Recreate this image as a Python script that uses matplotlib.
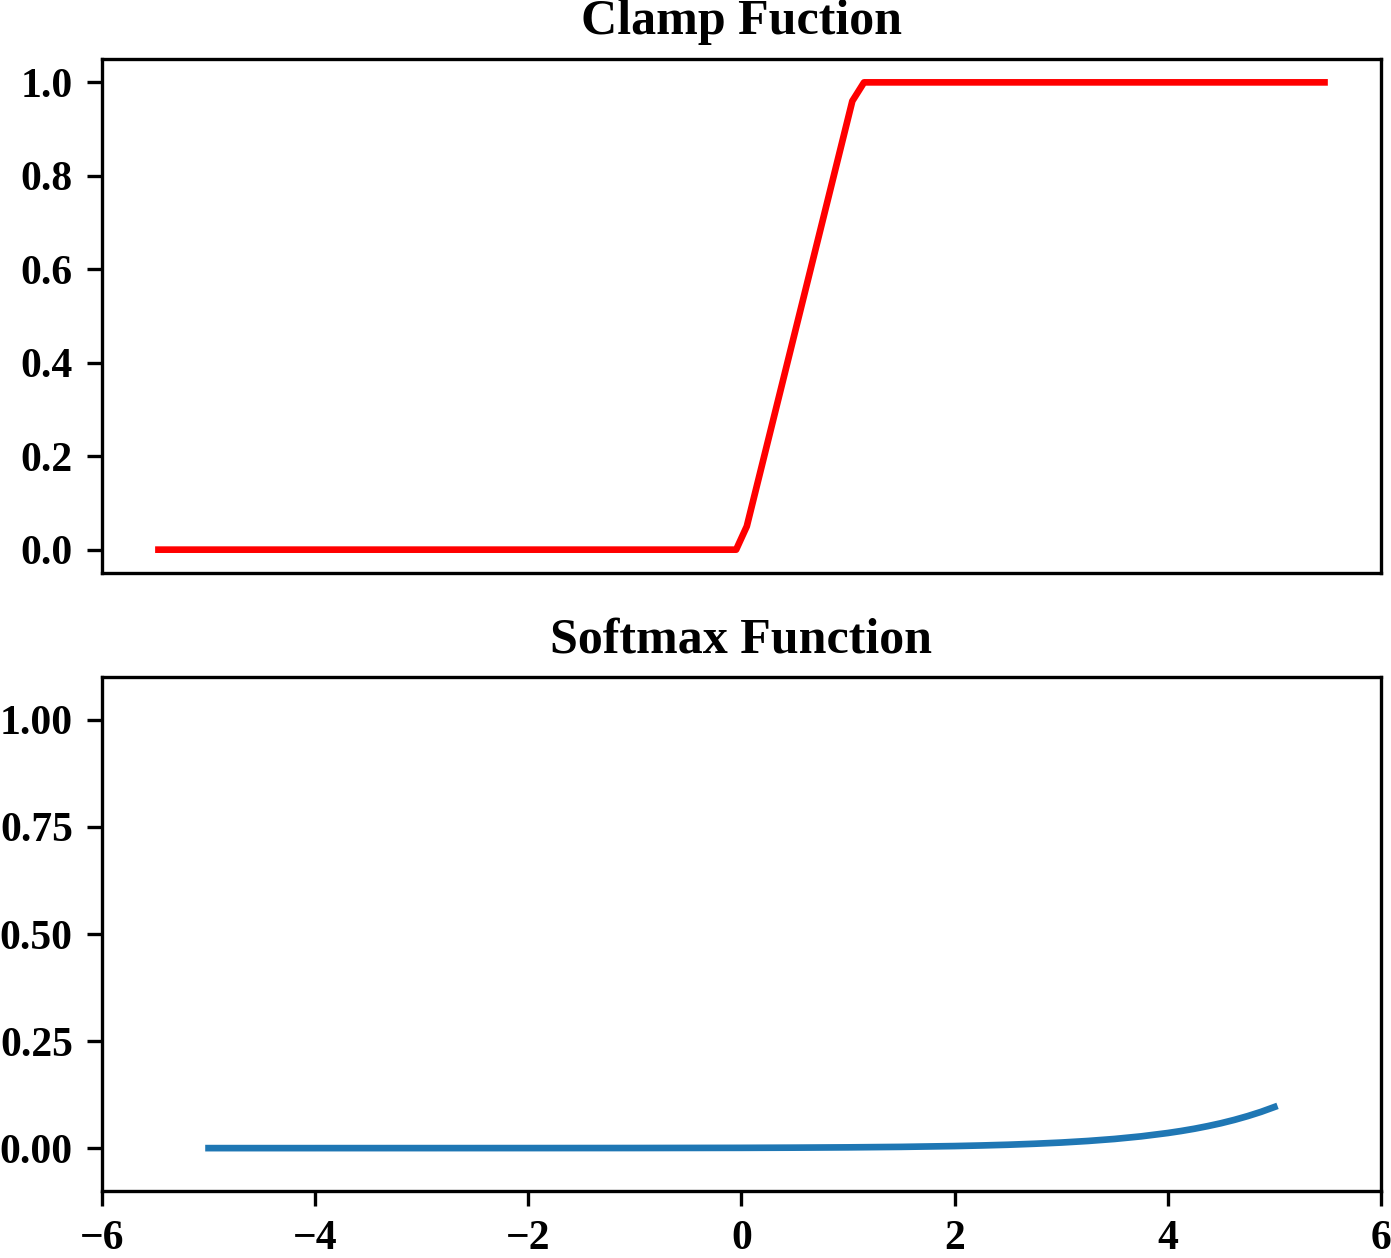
import matplotlib
matplotlib.use("Agg")
import matplotlib.pyplot as plt

plt.rcParams['font.family'] = ['Liberation Serif', 'DejaVu Serif']
plt.rcParams['font.weight'] = 'bold'
plt.rcParams['axes.titleweight'] = 'bold'

# clamp function vertices
clamp_x = [-5.47, -0.05, 0.05, 1.04, 1.15, 5.47]
clamp_y = [0.0, 0.0, 0.05, 0.96, 1.0, 1.0]

# softmax curve samples
soft_x = [-5, -4, -3, -2, -1, 0, 0.5, 1, 1.5, 2, 2.25, 2.5, 2.75, 3, 3.25, 3.5,
          3.75, 4, 4.125, 4.25, 4.375, 4.5, 4.625, 4.75, 4.875, 5]
soft_y = [0.0, 0.0, 0.00003, 0.00009, 0.00024, 0.00065, 0.0011, 0.0018, 0.0029,
          0.0048, 0.0062, 0.0079, 0.0102, 0.013, 0.0167, 0.0214, 0.0275, 0.0353,
          0.0400, 0.0453, 0.0514, 0.0582, 0.0660, 0.0748, 0.0847, 0.096]

fig = plt.figure(figsize=(1391/300, 1258/300), dpi=300)
ax1 = fig.add_axes([0.0733, 0.5445, 0.9195, 0.4086])
ax2 = fig.add_axes([0.0733, 0.0533, 0.9195, 0.4085])

ax1.plot(clamp_x, clamp_y, color='red', linewidth=1.6)
ax1.set_title('Clamp Fuction', fontsize=12)
ax1.set_xlim(-6, 6)
ax1.set_xticks([])
ax1.set_yticks([0.0, 0.2, 0.4, 0.6, 0.8, 1.0])
ax1.tick_params(labelsize=10)

ax2.plot(soft_x, soft_y, color='#1f77b4', linewidth=1.6)
ax2.set_title('Softmax Function', fontsize=12)
ax2.set_xlim(-6, 6)
ax2.set_ylim(-0.1, 1.1)
ax2.set_xticks([-6, -4, -2, 0, 2, 4, 6])
ax2.set_yticks([0.0, 0.25, 0.5, 0.75, 1.0])
ax2.set_yticklabels(['0.00', '0.25', '0.50', '0.75', '1.00'])
ax2.tick_params(labelsize=10)

fig.savefig('out.png', dpi=300)
